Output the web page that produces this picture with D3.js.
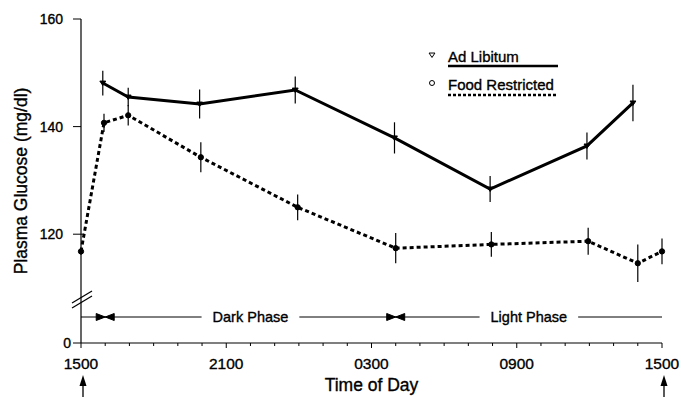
<!DOCTYPE html>
<html>
<head>
<meta charset="utf-8">
<script src="https://cdn.jsdelivr.net/npm/d3@7"></script>
<style>
  body { margin: 0; background: #fff; }
  svg { display: block; font-family: "Liberation Sans", Arial, sans-serif; }
  svg text { fill: #000; stroke: #000; stroke-width: 0.35px; }
</style>
</head>
<body>
<svg id="chart" width="681" height="397"></svg>
<script>
// hours after 1500
const adLibHours = [0.9, 1.95, 4.9, 8.85, 12.95, 16.9, 20.9, 22.8];
const adLibValues = [148.1, 145.5, 144.2, 146.8, 137.9, 128.4, 136.4, 144.4];
const adLibErr = [2.3, 1.7, 2.7, 2.5, 2.9, 2.4, 2.5, 3.4];

const foodHours = [0, 0.95, 1.95, 4.95, 8.95, 13, 16.95, 20.95, 23, 24];
const foodValues = [116.8, 140.7, 142.1, 134.3, 125.0, 117.4, 118.1, 118.7, 114.6, 116.8];
const foodErr = [0.6, 1.7, 1.9, 2.8, 2.4, 2.8, 2.3, 2.5, 3.5, 2.4];

const xTickHours = [0, 6, 12, 18, 24];
const xTickLabels = ["1500", "2100", "0300", "0900", "1500"];
const yTicks = [0, 120, 140, 160];
const phases = [
  { name: "Dark Phase", from: 1, to: 13 },
  { name: "Light Phase", from: 13, to: 24 },
];

const svg = d3.select("#chart");
const x = d3.scaleLinear().domain([0, 24]).range([81, 662]);
// broken axis: 0 sits below the break, 110-160 above it
const y = d3.scaleLinear().domain([0, 110, 160]).range([343, 288, 19]);

// x axis
const xAxis = svg.append("g").attr("transform", `translate(0,${y(0)})`);
xAxis.append("line")
  .attr("x1", x(0)).attr("x2", x(24))
  .attr("stroke", "#000").attr("stroke-width", 1.2);
xAxis.selectAll("line.minor")
  .data(d3.range(0, 25))
  .join("line")
  .attr("class", "minor")
  .attr("x1", (d) => x(d)).attr("x2", (d) => x(d))
  .attr("y1", 0).attr("y2", (d) => (d % 6 === 0 ? 5 : 3))
  .attr("stroke", "#000").attr("stroke-width", 1);
xAxis.selectAll("text")
  .data(xTickHours)
  .join("text")
  .attr("x", (d) => x(d))
  .attr("y", 26)
  .attr("text-anchor", "middle")
  .style("font-size", "15.5px")
  .text((d, i) => xTickLabels[i]);

// y axis
const yAxis = svg.append("g").attr("transform", `translate(${x(0)},0)`);
yAxis.append("line")
  .attr("y1", y(160)).attr("y2", y(0))
  .attr("stroke", "#000").attr("stroke-width", 1.2);
yAxis.selectAll("line.tick")
  .data(yTicks)
  .join("line")
  .attr("class", "tick")
  .attr("x1", -8).attr("x2", (d) => (d === 120 ? 3 : 0))
  .attr("y1", (d) => y(d)).attr("y2", (d) => y(d))
  .attr("stroke", "#000").attr("stroke-width", 1);
yAxis.selectAll("text")
  .data(yTicks)
  .join("text")
  .attr("x", (d) => (d === 0 ? -10 : -18))
  .attr("y", (d) => y(d))
  .attr("dy", "0.35em")
  .attr("text-anchor", "end")
  .style("font-size", "14px")
  .text((d) => d);

// axis break marks
yAxis.selectAll("line.brk")
  .data([297, 302])
  .join("line")
  .attr("class", "brk")
  .attr("x1", -9).attr("y1", (d) => d + 6)
  .attr("x2", 11).attr("y2", (d) => d - 6)
  .attr("stroke", "#000").attr("stroke-width", 1.2);

// axis titles
svg.append("text")
  .attr("x", (x(0) + x(24)) / 2)
  .attr("y", 391)
  .attr("text-anchor", "middle")
  .style("font-size", "17.5px")
  .text("Time of Day");
svg.append("text")
  .attr("transform", "translate(27,181) rotate(-90)")
  .attr("text-anchor", "middle")
  .style("font-size", "17.5px")
  .text("Plasma Glucose (mg/dl)");

// arrows marking 1500
svg.selectAll("g.arrow")
  .data([0, 24])
  .join("g")
  .attr("class", "arrow")
  .attr("transform", (d) => `translate(${x(d) + 2},0)`)
  .each(function () {
    const g = d3.select(this);
    g.append("line").attr("y1", 380).attr("y2", 397).attr("stroke", "#000").attr("stroke-width", 1.3);
    g.append("path").attr("d", "M0,375L-3.5,386L3.5,386Z").attr("fill", "#000");
  });

// phase bar
const phaseY = y(0) - 26;
const phaseG = svg.append("g");
phaseG.append("line")
  .attr("x1", x(0)).attr("x2", x(24))
  .attr("y1", phaseY).attr("y2", phaseY)
  .attr("stroke", "#000").attr("stroke-width", 1);
phases.forEach((p) => {
  const cx = x((p.from + p.to) / 2);
  const t = phaseG.append("text")
    .attr("x", cx).attr("y", phaseY)
    .attr("dy", "0.35em")
    .attr("text-anchor", "middle")
    .style("font-size", "14.5px")
    .text(p.name);
  const bb = t.node().getBBox();
  phaseG.insert("rect", "text")
    .attr("x", bb.x - 11).attr("y", bb.y)
    .attr("width", bb.width + 22).attr("height", bb.height)
    .attr("fill", "#fff");
});
phaseG.selectAll("path.bow")
  .data([1, 13])
  .join("path")
  .attr("class", "bow")
  .attr("transform", (d) => `translate(${x(d)},${phaseY})`)
  .attr("d", "M-9,-3.5L0,0L-9,3.5ZM9,-3.5L0,0L9,3.5Z")
  .attr("fill", "#000").attr("stroke", "#000").attr("stroke-width", 1);

// series
const line = d3.line().x((d) => x(d[0])).y((d) => y(d[1]));
const adLib = adLibHours.map((h, i) => [h, adLibValues[i], adLibErr[i]]);
const food = foodHours.map((h, i) => [h, foodValues[i], foodErr[i]]);

function drawSeries(data, dash, symbol) {
  const g = svg.append("g");
  g.selectAll("line.err")
    .data(data)
    .join("line")
    .attr("class", "err")
    .attr("x1", (d) => x(d[0])).attr("x2", (d) => x(d[0]))
    .attr("y1", (d) => y(d[1] - d[2])).attr("y2", (d) => y(d[1] + d[2]))
    .attr("stroke", "#000").attr("stroke-width", 1.2);
  g.append("path")
    .datum(data)
    .attr("d", line)
    .attr("fill", "none")
    .attr("stroke", "#000")
    .attr("stroke-width", 3)
    .attr("stroke-dasharray", dash);
  g.selectAll("path.pt")
    .data(data)
    .join("path")
    .attr("class", "pt")
    .attr("transform", (d) => `translate(${x(d[0])},${y(d[1])})`)
    .attr("d", d3.symbol().type(symbol).size(22))
    .attr("fill", "#000").attr("stroke", "#000").attr("stroke-width", 1);
}
const triDown = {
  draw(ctx, size) {
    const s = Math.sqrt(size);
    ctx.moveTo(-s / 1.6, -s / 2.4);
    ctx.lineTo(s / 1.6, -s / 2.4);
    ctx.lineTo(0, s / 1.9);
    ctx.closePath();
  },
};
drawSeries(adLib, null, triDown);
drawSeries(food, "4,3", d3.symbolCircle);

// legend
const legend = svg.append("g").attr("transform", "translate(432,0)");
legend.append("path")
  .attr("transform", "translate(0,55)")
  .attr("d", d3.symbol().type(triDown).size(22))
  .attr("fill", "#fff").attr("stroke", "#000").attr("stroke-width", 1);
legend.append("circle")
  .attr("cx", 0).attr("cy", 83).attr("r", 2.5)
  .attr("fill", "#fff").attr("stroke", "#000").attr("stroke-width", 1);
legend.append("text")
  .attr("x", 16).attr("y", 62)
  .style("font-size", "15px")
  .text("Ad Libitum");
legend.append("text")
  .attr("x", 16).attr("y", 90)
  .style("font-size", "15px")
  .text("Food Restricted");
legend.append("line")
  .attr("x1", 16).attr("x2", 126).attr("y1", 66).attr("y2", 66)
  .attr("stroke", "#000").attr("stroke-width", 2.5);
legend.append("line")
  .attr("x1", 16).attr("x2", 126).attr("y1", 95).attr("y2", 95)
  .attr("stroke", "#000").attr("stroke-width", 2.5)
  .attr("stroke-dasharray", "3,2");
</script>
</body>
</html>
